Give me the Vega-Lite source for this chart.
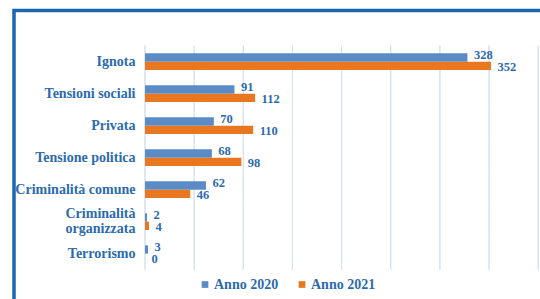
{
  "$schema": "https://vega.github.io/schema/vega-lite/v6.json",
  "autosize": {"type": "none"},
  "padding": {"left": 14, "top": 10.5, "right": -10, "bottom": -12},
  "width": 536,
  "height": 300.5,
  "background": "white",
  "config": {
    "view": {"stroke": "#1c67b1", "strokeWidth": 3.5},
    "font": "Liberation Serif"
  },
  "datasets": {
    "bars": [
      {"cat": "Ignota", "anno": "Anno 2020", "v": 328},
      {"cat": "Ignota", "anno": "Anno 2021", "v": 352},
      {"cat": "Tensioni sociali", "anno": "Anno 2020", "v": 91},
      {"cat": "Tensioni sociali", "anno": "Anno 2021", "v": 112},
      {"cat": "Privata", "anno": "Anno 2020", "v": 70},
      {"cat": "Privata", "anno": "Anno 2021", "v": 110},
      {"cat": "Tensione politica", "anno": "Anno 2020", "v": 68},
      {"cat": "Tensione politica", "anno": "Anno 2021", "v": 98},
      {"cat": "Criminalità comune", "anno": "Anno 2020", "v": 62},
      {"cat": "Criminalità comune", "anno": "Anno 2021", "v": 46},
      {"cat": "Criminalità organizzata", "anno": "Anno 2020", "v": 2},
      {"cat": "Criminalità organizzata", "anno": "Anno 2021", "v": 4},
      {"cat": "Terrorismo", "anno": "Anno 2020", "v": 3},
      {"cat": "Terrorismo", "anno": "Anno 2021", "v": 0}
    ],
    "grid": [
      {"g": 0, "cats": ["Ignota", "Tensioni sociali", "Privata", "Tensione politica", "Criminalità comune", "Criminalità organizzata", "Terrorismo"]},
      {"g": 50, "cats": ["Ignota", "Tensioni sociali", "Privata", "Tensione politica", "Criminalità comune", "Criminalità organizzata", "Terrorismo"]},
      {"g": 100, "cats": ["Ignota", "Tensioni sociali", "Privata", "Tensione politica", "Criminalità comune", "Criminalità organizzata", "Terrorismo"]},
      {"g": 150, "cats": ["Ignota", "Tensioni sociali", "Privata", "Tensione politica", "Criminalità comune", "Criminalità organizzata", "Terrorismo"]},
      {"g": 200, "cats": ["Ignota", "Tensioni sociali", "Privata", "Tensione politica", "Criminalità comune", "Criminalità organizzata", "Terrorismo"]},
      {"g": 250, "cats": ["Ignota", "Tensioni sociali", "Privata", "Tensione politica", "Criminalità comune", "Criminalità organizzata", "Terrorismo"]},
      {"g": 300, "cats": ["Ignota", "Tensioni sociali", "Privata", "Tensione politica", "Criminalità comune", "Criminalità organizzata", "Terrorismo"]},
      {"g": 350, "cats": ["Ignota", "Tensioni sociali", "Privata", "Tensione politica", "Criminalità comune", "Criminalità organizzata", "Terrorismo"]},
      {"g": 400, "cats": ["Ignota", "Tensioni sociali", "Privata", "Tensione politica", "Criminalità comune", "Criminalità organizzata", "Terrorismo"]}
    ]
  },
  "layer": [
    {
      "data": {"name": "grid"},
      "transform": [{"flatten": ["cats"], "as": ["cat"]}],
      "mark": {"type": "rect", "fill": null, "stroke": "#d5e1ef", "strokeWidth": 1},
      "encoding": {
        "y": {
          "field": "cat", "type": "nominal",
          "scale": {
            "domain": ["Ignota", "Tensioni sociali", "Privata", "Tensione politica", "Criminalità comune", "Criminalità organizzata", "Terrorismo", " "],
            "paddingInner": 0, "paddingOuter": 0.695, "align": 0.79
          },
          "axis": {
            "orient": "left", "offset": -131, "domain": false, "ticks": false,
            "grid": false, "title": null, "labelPadding": 10,
            "labelFont": "Liberation Serif", "labelFontWeight": "bold",
            "labelFontSize": 14, "labelColor": "#2c6aae", "labelLineHeight": 15,
            "labelOffset": {"condition": {"test": "datum.label == 'Criminalità organizzata'", "value": -8}, "value": 0},
            "labelExpr": "datum.label == 'Criminalità organizzata' ? ['Criminalità', 'organizzata'] : datum.label"
          }
        },
        "x": {
          "field": "g", "type": "quantitative",
          "scale": {"domain": [-133.3, 412], "nice": false, "zero": false},
          "axis": null
        },
        "x2": {"field": "g"}
      }
    },
    {
      "data": {"name": "bars"},
      "mark": {"type": "bar"},
      "encoding": {
        "y": {"field": "cat", "type": "nominal"},
        "yOffset": {"field": "anno", "type": "nominal", "scale": {"paddingInner": 0, "paddingOuter": 0.92}},
        "x": {"field": "v", "type": "quantitative"},
        "color": {
          "field": "anno", "type": "nominal",
          "scale": {"domain": ["Anno 2020", "Anno 2021"], "range": ["#5b8bc7", "#e8771f"]},
          "legend": {
            "orient": "none", "legendX": 184, "legendY": 267, "direction": "horizontal",
            "title": null, "symbolType": "square", "symbolSize": 45, "symbolStrokeWidth": 0,
            "labelFont": "Liberation Serif", "labelFontWeight": "bold", "labelFontSize": 14,
            "labelColor": "#2c6aae", "columnPadding": 16, "labelOffset": 2
          }
        }
      }
    },
    {
      "data": {"name": "bars"},
      "transform": [{"filter": "datum.anno == 'Anno 2020'"}],
      "mark": {"type": "text", "align": "left", "baseline": "middle", "dx": 6.5, "dy": -2.5,
               "font": "Liberation Serif", "fontWeight": "bold", "fontSize": 12.5, "color": "#2c6aae"},
      "encoding": {
        "y": {"field": "cat", "type": "nominal"},
        "yOffset": {"field": "anno", "type": "nominal"},
        "x": {"field": "v", "type": "quantitative"},
        "text": {"field": "v", "type": "quantitative"}
      }
    },
    {
      "data": {"name": "bars"},
      "transform": [{"filter": "datum.anno == 'Anno 2021'"}],
      "mark": {"type": "text", "align": "left", "baseline": "middle", "dx": 6.5, "dy": 1.5,
               "font": "Liberation Serif", "fontWeight": "bold", "fontSize": 12.5, "color": "#2c6aae"},
      "encoding": {
        "y": {"field": "cat", "type": "nominal"},
        "yOffset": {"field": "anno", "type": "nominal"},
        "x": {"field": "v", "type": "quantitative"},
        "text": {"field": "v", "type": "quantitative"}
      }
    }
  ]
}
